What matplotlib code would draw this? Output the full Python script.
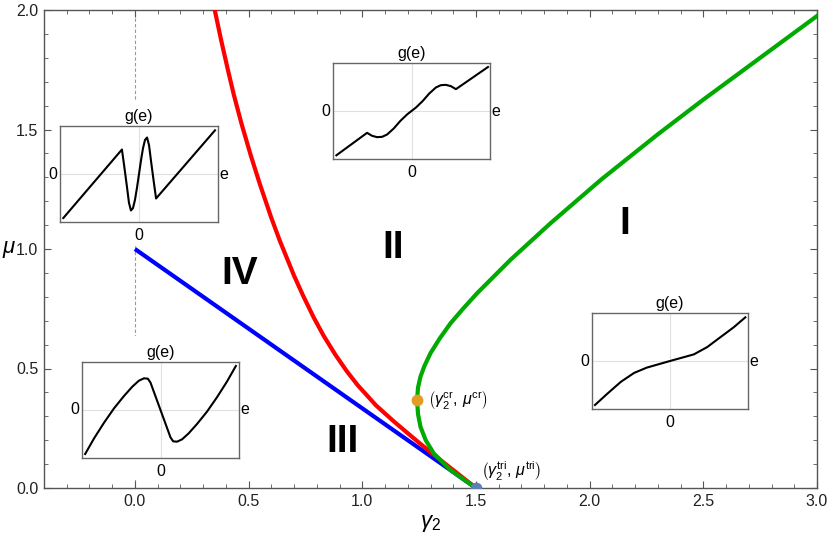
import matplotlib
matplotlib.use("Agg")
import matplotlib.pyplot as plt
from matplotlib.patches import Rectangle
from matplotlib.ticker import MultipleLocator

plt.rcParams["font.family"] = ["Liberation Sans", "DejaVu Sans"]
plt.rcParams["mathtext.fontset"] = "custom"
plt.rcParams["mathtext.rm"] = "Liberation Sans"
plt.rcParams["mathtext.it"] = "Liberation Sans:italic"
plt.rcParams["mathtext.bf"] = "Liberation Sans:bold"

# phase boundaries (gamma_2, mu)
red_g = [0.351, 0.38, 0.41, 0.435, 0.47, 0.51, 0.55, 0.60, 0.637, 0.70, 0.74, 0.786, 0.83,
         0.88, 0.93, 0.979, 1.06, 1.137, 1.22, 1.30, 1.40, 1.50]
red_mu = [2.00, 1.87, 1.745, 1.645, 1.52, 1.39, 1.27, 1.13, 1.035, 0.888, 0.804, 0.714, 0.637,
          0.560, 0.491, 0.431, 0.346, 0.28, 0.213, 0.150, 0.075, 0.0]

blue_g = [0.0, 0.5, 1.0, 1.5]
blue_mu = [1.0, 0.6667, 0.3333, 0.0]

green_g = [1.5, 1.447, 1.388, 1.314, 1.279, 1.256, 1.245, 1.241, 1.245, 1.256, 1.273, 1.30,
           1.34, 1.388, 1.443, 1.505, 1.651, 1.827, 2.05, 2.30, 2.50, 2.75, 3.0]
green_mu = [0.0, 0.035, 0.075, 0.145, 0.20, 0.256, 0.31, 0.368, 0.42, 0.466, 0.51, 0.564,
            0.625, 0.689, 0.75, 0.815, 0.954, 1.107, 1.29, 1.48, 1.625, 1.80, 1.975]

cr_point = (1.241, 0.368)
tri_point = (1.5, 0.0)

regions = ["I", "II", "III", "IV"]
region_g = [2.156, 1.137, 0.913, 0.461]
region_mu = [1.105, 1.004, 0.192, 0.895]

# inset curves g(e), normalised to [-1, 1]
e_IV = [-0.958, -0.216, -0.186, -0.153, -0.127, -0.102, -0.076, -0.051, -0.025, 0.0,
        0.025, 0.051, 0.076, 0.102, 0.127, 0.153, 0.186, 0.216, 0.962]
g_IV = [-0.917, 0.51, 0.15, -0.26, -0.60, -0.76, -0.71, -0.54, -0.28, 0.0,
        0.28, 0.54, 0.71, 0.76, 0.60, 0.26, -0.15, -0.51, 0.91]

e_II = [-0.957, -0.566, -0.502, -0.438, -0.374, -0.311, -0.226, -0.14, -0.055, 0.0,
        0.055, 0.14, 0.226, 0.311, 0.374, 0.438, 0.502, 0.566, 0.974]
g_II = [-0.923, -0.455, -0.517, -0.545, -0.538, -0.49, -0.364, -0.203, -0.07, 0.0,
        0.07, 0.203, 0.364, 0.49, 0.538, 0.545, 0.517, 0.455, 0.916]

e_III = [-0.96, -0.846, -0.719, -0.592, -0.465, -0.359, -0.275, -0.211, -0.161, -0.127, 0.0,
         0.127, 0.161, 0.211, 0.275, 0.359, 0.465, 0.592, 0.719, 0.846, 0.96]
g_III = [-0.917, -0.59, -0.264, 0.035, 0.292, 0.486, 0.611, 0.66, 0.653, 0.569, 0.0,
         -0.569, -0.653, -0.66, -0.611, -0.486, -0.292, -0.035, 0.264, 0.59, 0.917]

e_I = [-0.962, -0.80, -0.63, -0.46, -0.298, 0.0, 0.306, 0.477, 0.647, 0.817, 0.966]
g_I = [-0.917, -0.676, -0.434, -0.248, -0.138, 0.0, 0.138, 0.29, 0.497, 0.703, 0.91]

W, H = 830, 543
fig = plt.figure(figsize=(W / 100, H / 100), dpi=100)
ax = fig.add_axes([44 / W, 1 - 488 / H, 773 / W, 478 / H])

ax.axvline(0, color="#999999", lw=0.8, ls=(0, (3, 2)), zorder=1)
ax.plot(blue_g, blue_mu, color="#0000ff", lw=3, zorder=3, solid_capstyle="butt")
ax.plot(red_g, red_mu, color="#ff0000", lw=3, zorder=4)
ax.plot(green_g, green_mu, color="#00aa00", lw=3, zorder=5)
ax.plot(*cr_point, "o", color="#e19c24", ms=7.5, zorder=6)
ax.plot(*tri_point, "o", color="#5e81b5", ms=7.5, zorder=6)

ax.text(cr_point[0] + 0.05, cr_point[1], r"$\left(\gamma_2^{\rm cr},\, \mu^{\rm cr}\right)$",
        fontsize=11.5, ha="left", va="center", zorder=7)
ax.text(tri_point[0] + 0.02, tri_point[1] + 0.07, r"$\left(\gamma_2^{\rm tri},\, \mu^{\rm tri}\right)$",
        fontsize=11.5, ha="left", va="center", zorder=7)

for name, gx, my in zip(regions, region_g, region_mu):
    ax.text(gx, my, name, fontsize=28, fontweight="bold", ha="center", va="center", zorder=7)

ax.set_xlim(-0.4, 3.0)
ax.set_ylim(0, 2.0)
ax.xaxis.set_major_locator(MultipleLocator(0.5))
ax.yaxis.set_major_locator(MultipleLocator(0.5))
ax.xaxis.set_minor_locator(MultipleLocator(0.1))
ax.yaxis.set_minor_locator(MultipleLocator(0.1))
ax.xaxis.set_major_formatter(lambda v, p: f"{v:.1f}")
ax.yaxis.set_major_formatter(lambda v, p: f"{v:.1f}")
ax.tick_params(which="both", direction="in", top=True, right=True, color="#555555",
               labelsize=11.5, labelcolor="#222222")
ax.tick_params(which="major", length=5, width=0.8, pad=4)
ax.tick_params(which="minor", length=3, width=0.6)
for sp in ax.spines.values():
    sp.set_color("#555555")
    sp.set_linewidth(1)

fig.text(430 / W, 1 - 524 / H, r"$\gamma_2$", fontsize=16, ha="center", va="center")
fig.text(9 / W, 1 - 250 / H, r"$\mu$", fontsize=16, ha="center", va="center")

# insets: frame in pixels (left, top, right, bottom)
insets = [
    ((60, 126, 218, 222), e_IV, g_IV),
    ((333, 63, 490, 159), e_II, g_II),
    ((82, 362, 239, 458), e_III, g_III),
    ((592, 313, 748, 409), e_I, g_I),
]
for (x0, y0, x1, y1), e, g in insets:
    ax.add_patch(Rectangle((x0 / W, 1 - (y1 + 22) / H), (x1 - x0) / W, (y1 - y0 + 48) / H,
                           transform=fig.transFigure, facecolor="white", edgecolor="none",
                           zorder=1.5, clip_on=False))
    ia = fig.add_axes([x0 / W, 1 - y1 / H, (x1 - x0) / W, (y1 - y0) / H])
    ia.axhline(0, color="#e0e0e0", lw=0.8)
    ia.axvline(0, color="#e0e0e0", lw=0.8)
    ia.plot(e, g, color="black", lw=1.5)
    ia.set_xlim(-1, 1)
    ia.set_ylim(-1, 1)
    ia.set_xticks([])
    ia.set_yticks([])
    for sp in ia.spines.values():
        sp.set_color("#666666")
        sp.set_linewidth(1)
    ia.text(0.5, 1.02, "g(e)", transform=ia.transAxes, ha="center", va="bottom", fontsize=11.5)
    ia.text(-0.015, 0.5, "0", transform=ia.transAxes, ha="right", va="center", fontsize=11.5)
    ia.text(1.01, 0.5, "e", transform=ia.transAxes, ha="left", va="center", fontsize=11.5)
    ia.text(0.5, -0.06, "0", transform=ia.transAxes, ha="center", va="top", fontsize=11.5)

fig.savefig("out.png", dpi=100)
